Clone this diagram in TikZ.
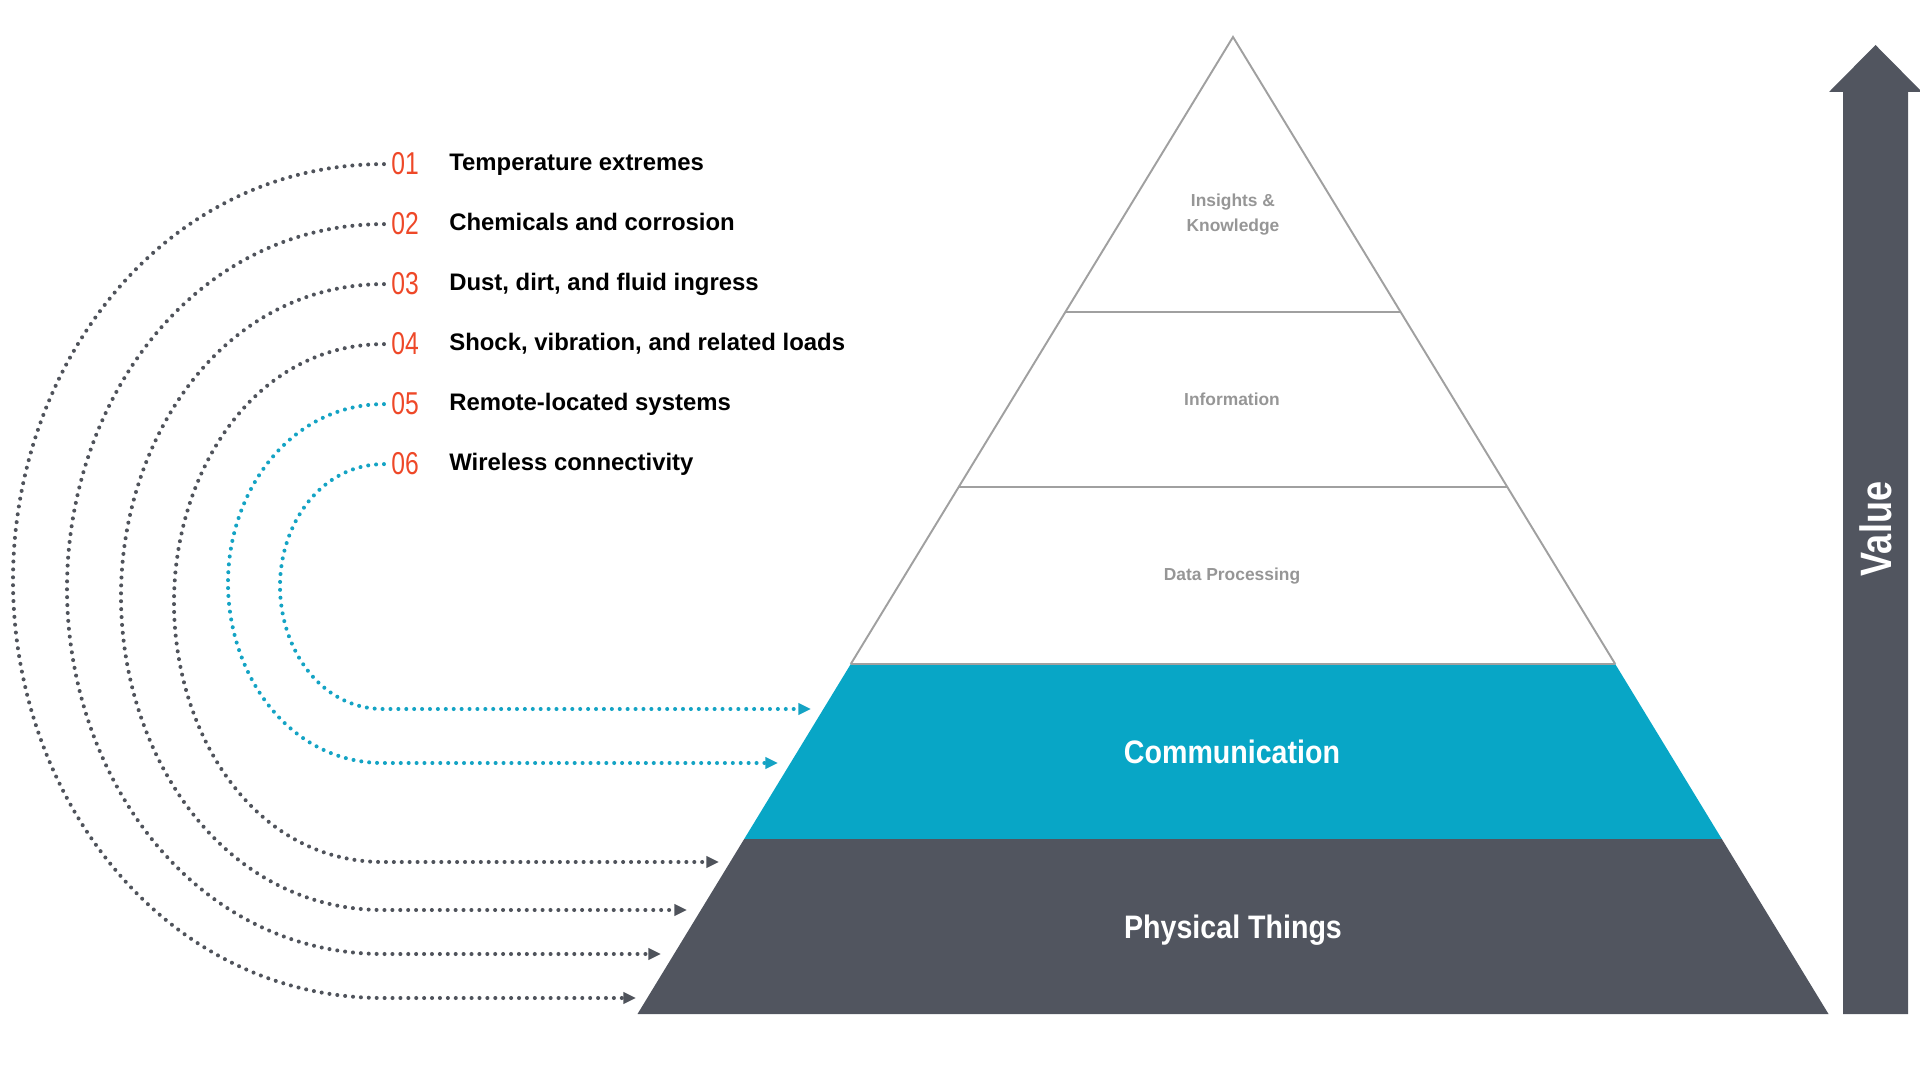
\documentclass[tikz,border=0pt]{standalone}
\usepackage{fontspec}
\setmainfont{Liberation Sans}
\newfontfamily\condfont[FakeStretch=0.88]{Liberation Sans}
\newfontfamily\valfont[FakeStretch=0.82]{Liberation Sans}
\newfontfamily\numfont[FakeStretch=0.78]{Liberation Sans}
\usetikzlibrary{arrows.meta}
\definecolor{pdark}{RGB}{81,85,95}
\definecolor{pcyan}{RGB}{8,166,198}
\definecolor{porange}{RGB}{238,72,40}
\definecolor{pline}{RGB}{160,160,160}
\definecolor{plabel}{RGB}{150,150,150}
\definecolor{pdots}{RGB}{79,83,91}
\definecolor{pcyandots}{RGB}{20,163,196}
\begin{document}
\begin{tikzpicture}[x=0.02cm,y=-0.02cm,
  dotline/.style={line width=2.3pt, line cap=round, dash pattern=on 0pt off 4.5pt},
  darkdots/.style={dotline, draw=pdots, -{Triangle[length=7.2pt,width=6.4pt]}},
  cyandots/.style={dotline, draw=pcyandots, -{Triangle[length=7.2pt,width=6.4pt]}},
  numsty/.style={font=\numfont\fontsize{18pt}{18pt}\selectfont, text=porange, inner sep=0pt, anchor=base west},
  itemsty/.style={font=\bfseries\fontsize{13.6pt}{16pt}\selectfont, text=black, inner sep=0pt, anchor=base west},
  graylabel/.style={font=\bfseries\fontsize{9.9pt}{14.7pt}\selectfont, text=plabel, inner sep=0pt, align=center},
  bandlabel/.style={font=\condfont\bfseries\fontsize{18.5pt}{20pt}\selectfont, text=white, inner sep=0pt, anchor=base},
  outline/.style={draw=pline, line width=1.1pt}
]
\useasboundingbox (0,0) rectangle (1920,1077);

% pyramid bands
\fill[pcyan] (850.8,664) -- (1615.2,664) -- (1721.8,839) -- (744.2,839) -- cycle;
\fill[pdark] (744.2,839) -- (1721.8,839) -- (1828.5,1014) -- (637.5,1014) -- cycle;
\draw[outline, line join=miter] (850.8,664) -- (1233,37) -- (1615.2,664);
\draw[outline] (1065.4,312) -- (1400.6,312);
\draw[outline] (958.7,487) -- (1507.3,487);
\draw[outline] (850.8,664) -- (1615.2,664);

% band labels
\node[graylabel] (ik) at (1233,214.5) {Insights \&\\Knowledge};
\node[graylabel, anchor=base] (info) at (1232,405.5) {Information};
\node[graylabel, anchor=base] (dp) at (1232,580.5) {Data Processing};
\node[bandlabel] (comm) at (1232,763.5) {Communication};
\node[bandlabel] (phys) at (1233,938) {Physical Things};

% value arrow
\fill[pdark] (1843,1014) -- (1843,92) -- (1829,92) -- (1875.5,45) -- (1922,92) -- (1908,92) -- (1908,1014) -- cycle;
\node[font=\valfont\bfseries\fontsize{25pt}{25pt}\selectfont, text=white, rotate=90, inner sep=0pt] (val) at (1876,529) {Value};

% list
\node[numsty] (n1) at (391,175) {01};
\node[numsty] (n2) at (391,235) {02};
\node[numsty] (n3) at (391,295) {03};
\node[numsty] (n4) at (391,355) {04};
\node[numsty] (n5) at (391,415) {05};
\node[numsty] (n6) at (391,475) {06};
\node[itemsty] (t1) at (449,171) {Temperature extremes};
\node[itemsty] (t2) at (449,231) {Chemicals and corrosion};
\node[itemsty] (t3) at (449,291) {Dust, dirt, and fluid ingress};
\node[itemsty] (t4) at (449,351) {Shock, vibration, and related loads};
\node[itemsty] (t5) at (449,411) {Remote-located systems};
\node[itemsty] (t6) at (449,471) {Wireless connectivity};

% connector waypoints
\coordinate (l1) at (13,580.5);  \coordinate (e1) at (383,998); \coordinate (a1) at (636,998);
\coordinate (l2) at (67,588.5);  \coordinate (e2) at (383,954); \coordinate (a2) at (661,954);
\coordinate (l3) at (121,596.5); \coordinate (e3) at (383,910); \coordinate (a3) at (687,910);
\coordinate (l4) at (174,602.5); \coordinate (e4) at (383,862); \coordinate (a4) at (719,862);
\coordinate (l5) at (228,583);   \coordinate (e5) at (383,763); \coordinate (a5) at (778,763);
\coordinate (l6) at (280,586);   \coordinate (e6) at (383,709); \coordinate (a6) at (811,709);

\draw[darkdots] ([xshift=-4pt]n1.west) to[out=180,in=90] (l1) to[out=-90,in=180] (e1) -- (a1);
\draw[darkdots] ([xshift=-4pt]n2.west) to[out=180,in=90] (l2) to[out=-90,in=180] (e2) -- (a2);
\draw[darkdots] ([xshift=-4pt]n3.west) to[out=180,in=90] (l3) to[out=-90,in=180] (e3) -- (a3);
\draw[darkdots] ([xshift=-4pt]n4.west) to[out=180,in=90] (l4) to[out=-90,in=180] (e4) -- (a4);
\draw[cyandots] ([xshift=-4pt]n5.west) to[out=180,in=90] (l5) to[out=-90,in=180] (e5) -- (a5);
\draw[cyandots] ([xshift=-4pt]n6.west) to[out=180,in=90] (l6) to[out=-90,in=180] (e6) -- (a6);
\end{tikzpicture}
\end{document}
